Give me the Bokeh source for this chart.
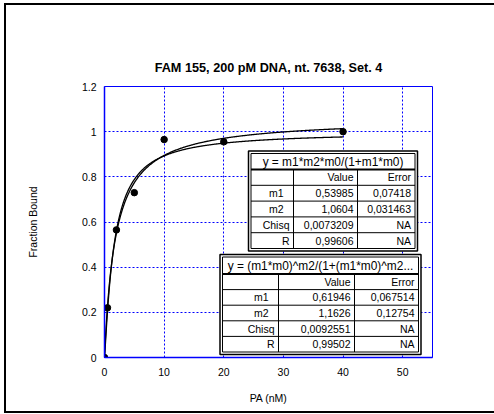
import numpy as np
from bokeh.plotting import figure
from bokeh.models import Range1d, InlineStyleSheet
from bokeh.core.properties import value
from bokeh.embed import file_html
from bokeh.resources import INLINE

# ---------------- data ----------------
title_text = "FAM 155, 200 pM DNA, nt. 7638, Set. 4"
x_label = "PA (nM)"
y_label = "Fraction Bound"

pa_nm = [0, 0.5, 2, 5, 10, 20, 40]
fraction_bound = [0.0, 0.22, 0.565, 0.73, 0.965, 0.955, 1.0]

x_ticks = [0, 10, 20, 30, 40, 50]
y_ticks = [0, 0.2, 0.4, 0.6, 0.8, 1.0, 1.2]
y_tick_labels = ["0", "0.2", "0.4", "0.6", "0.8", "1", "1.2"]

table_header = ["", "Value", "Error"]
param_names = ["m1", "m2", "Chisq", "R"]

fit1_title = "y = m1*m2*m0/(1+m1*m0)"
fit1_values = ["0,53985", "1,0604", "0,0073209", "0,99606"]
fit1_errors = ["0,07418", "0,031463", "NA", "NA"]
fit1_m1 = 0.53985
fit1_m2 = 1.0604

fit2_title = "y = (m1*m0)^m2/(1+(m1*m0)^m2..."
fit2_values = ["0,61946", "1,1626", "0,0092551", "0,99502"]
fit2_errors = ["0,067514", "0,12754", "NA", "NA"]
fit2_m1 = 0.61946
fit2_m2 = 1.1626

FONT = "Liberation Sans"

# ---------------- figure ----------------
W, H = 494, 414
FL, FR, FT, FB = 104, 432, 86, 357
XMAX, YMAX = 55, 1.2

p = figure(width=W, height=H, output_backend="svg", toolbar_location=None,
           x_range=Range1d(0, XMAX), y_range=Range1d(0, YMAX),
           min_border_left=FL, min_border_right=W - FR,
           min_border_top=FT, min_border_bottom=H - FB,
           background_fill_color="white", border_fill_color=None)

p.title.text = title_text
p.title.align = "center"
p.title.text_font = FONT
p.title.text_font_size = "12.7px"
p.title.text_font_style = "bold"
p.title.text_color = "black"
p.title.standoff = 24

p.outline_line_color = "blue"
p.outline_line_width = 1

for ax, ticks in ((p.xaxis, x_ticks), (p.yaxis, y_ticks)):
    ax.ticker = ticks
    ax.axis_line_color = "blue"
    ax.axis_line_width = 1.5
    ax.major_tick_in = 0
    ax.major_tick_out = 0
    ax.minor_tick_in = 0
    ax.minor_tick_out = 0
    ax.major_label_text_font = FONT
    ax.major_label_text_font_size = "10.5px"
    ax.major_label_text_color = "black"
    ax.axis_label_text_font = FONT
    ax.axis_label_text_font_size = "10.5px"
    ax.axis_label_text_font_style = "normal"
    ax.axis_label_text_color = "black"

p.xaxis.axis_label = x_label
p.yaxis.axis_label = y_label
p.xaxis.major_label_standoff = 10
p.yaxis.major_label_standoff = 8
p.xaxis.axis_label_standoff = 13
p.yaxis.axis_label_standoff = 40
p.yaxis.major_label_overrides = dict(zip(y_ticks, y_tick_labels))

for g, ticks in ((p.xgrid, x_ticks), (p.ygrid, y_ticks)):
    g.ticker = ticks
    g.grid_line_color = "blue"
    g.grid_line_dash = "2 2"
    g.grid_line_width = 1

# fitted curves, from the parameters shown in the tables
x_fit = np.linspace(0, max(pa_nm), 400)
y_fit1 = fit1_m1 * fit1_m2 * x_fit / (1 + fit1_m1 * x_fit)
u = np.power(fit2_m1 * x_fit, fit2_m2)
y_fit2 = u / (1 + u)
p.line(x_fit, y_fit1, line_color="black", line_width=1.3)
p.line(x_fit, y_fit2, line_color="black", line_width=1.3)

p.scatter(pa_nm, fraction_bound, size=6.5, color="black")


# ---------------- parameter tables ----------------
def X(px):
    return (px - FL) / (FR - FL) * XMAX


def Y(py):
    return (FB - py) / (FB - FT) * YMAX


def draw_table(title, values, errors, left, right, top, bottom, col1, col2, title_bottom, row_h):
    # outer + inner border (double frame)
    p.quad(left=[X(left)], right=[X(right)], top=[Y(top)], bottom=[Y(bottom)],
           fill_color="white", line_color="black", line_width=1.5)
    il, ir, it, ib = left + 2.5, right - 2.5, top + 2.5, bottom - 2.5
    p.quad(left=[X(il)], right=[X(ir)], top=[Y(it)], bottom=[Y(ib)],
           fill_color=None, line_color="black", line_width=1)
    # thick line under title
    p.segment(x0=[X(il)], x1=[X(ir)], y0=[Y(title_bottom)], y1=[Y(title_bottom)],
              line_color="black", line_width=2)
    rows = [title_bottom + row_h * (k + 1) for k in range(4)]
    p.segment(x0=[X(il)] * 4, x1=[X(ir)] * 4, y0=[Y(r) for r in rows], y1=[Y(r) for r in rows],
              line_color="black", line_width=1)
    p.segment(x0=[X(col1), X(col2)], x1=[X(col1), X(col2)],
              y0=[Y(title_bottom)] * 2, y1=[Y(ib)] * 2, line_color="black", line_width=1)
    txt = dict(text_font=value(FONT), text_color="black", text_baseline="middle")
    p.text(x=[X((il + ir) / 2)], y=[Y((it + title_bottom) / 2)], text=[title],
           text_align="center", text_font_size="11.9px", **txt)
    # header row
    hy = Y(title_bottom + row_h / 2)
    p.text(x=[X(col2 - 4), X(ir - 4)], y=[hy, hy], text=table_header[1:],
           text_align="right", text_font_size="10.5px", **txt)
    centers = [title_bottom + row_h * (k + 1.5) for k in range(4)]
    lab_x = [X(col1 - (10 if n.startswith("m") else 4)) for n in param_names]
    p.text(x=lab_x, y=[Y(c) for c in centers], text=param_names, text_align="right",
           text_font_size="10.5px", **txt)
    p.text(x=[X(col2 - 4)] * 4, y=[Y(c) for c in centers], text=values, text_align="right",
           text_font_size="10.5px", **txt)
    p.text(x=[X(ir - 4)] * 4, y=[Y(c) for c in centers], text=errors, text_align="right",
           text_font_size="10.5px", **txt)


draw_table(fit1_title, fit1_values, fit1_errors,
           left=248, right=417, top=150.5, bottom=250.5,
           col1=293, col2=357, title_bottom=169, row_h=15.8)
draw_table(fit2_title, fit2_values, fit2_errors,
           left=219.5, right=420.5, top=254, bottom=354,
           col1=278, col2=354, title_bottom=273.5, row_h=15.6)

# outer black border of the page (open on the right, as in the original):
# painted as the background of the plot's own element, seen through the
# transparent border area of the canvas (no overlay element at all)
p.stylesheets = [InlineStyleSheet(css=(
    ":host{background:"
    "linear-gradient(#000,#000) 4px 3px/490px 2px no-repeat,"
    "linear-gradient(#000,#000) 4px 411px/490px 2px no-repeat,"
    "linear-gradient(#000,#000) 4px 3px/2px 410px no-repeat,"
    "#fff;}"))]

open("out.html", "w").write(file_html(p, INLINE))
